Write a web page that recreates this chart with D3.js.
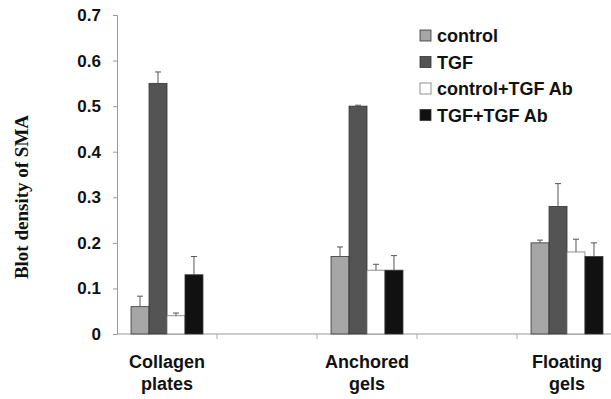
<!DOCTYPE html>
<html>
<head>
<meta charset="utf-8">
<script src="https://cdn.jsdelivr.net/npm/d3@7"></script>
<style>
  body { margin: 0; background: #fff; }
  svg { display: block; }
</style>
</head>
<body>
<svg width="611" height="399"></svg>
<script>
// chart data
const categories = ["Collagen plates", "blank1", "Anchored gels", "blank2", "Floating gels"];
const groups = ["Collagen plates", "Anchored gels", "Floating gels"];
const series = ["control", "TGF", "control+TGF Ab", "TGF+TGF Ab"];
const colors = ["#a6a6a6", "#545454", "#ffffff", "#111111"];
const control = [0.06, 0.17, 0.20];
const tgf = [0.55, 0.50, 0.28];
const controlAb = [0.04, 0.14, 0.18];
const tgfAb = [0.13, 0.14, 0.17];
const controlErr = [0.023, 0.021, 0.006];
const tgfErr = [0.025, 0.002, 0.05];
const controlAbErr = [0.006, 0.013, 0.028];
const tgfAbErr = [0.04, 0.032, 0.03];
const yTicks = [0, 0.1, 0.2, 0.3, 0.4, 0.5, 0.6, 0.7];

const values = [control, tgf, controlAb, tgfAb];
const errors = [controlErr, tgfErr, controlAbErr, tgfAbErr];

const svg = d3.select("svg");
const sans = "Liberation Sans, Arial, sans-serif";

let y = d3.scaleLinear().domain([0, 0.7]).range([334, 15]);
let x = d3.scaleBand().domain(categories).range([117, 617]).padding(0);
let xs = d3.scaleBand().domain(series).range([0, x.bandwidth()]).paddingInner(0).paddingOuter(0.78);

// y axis
const yAxis = svg.append("g")
    .attr("transform", `translate(117,0)`)
    .call(d3.axisLeft(y).tickValues(yTicks).tickSize(4).tickFormat(d => d === 0 ? "0" : d3.format(".1f")(d)));
yAxis.select(".domain").attr("stroke", "#999");
yAxis.selectAll(".tick line").attr("stroke", "#999");
yAxis.selectAll(".tick text")
    .attr("x", -16)
    .attr("font-family", sans)
    .attr("font-weight", "bold")
    .attr("font-size", "17px")
    .attr("fill", "#111");

// x axis line + ticks at category boundaries
const xAxis = svg.append("g")
    .attr("transform", `translate(0,${y(0)})`);
xAxis.append("line")
    .attr("x1", x.range()[0]).attr("x2", x.range()[1])
    .attr("stroke", "#999");
xAxis.selectAll(".xt")
    .data(categories.slice(1))
    .join("line")
    .attr("x1", d => x(d)).attr("x2", d => x(d))
    .attr("y1", 0).attr("y2", 5)
    .attr("stroke", "#aaa");

// category labels
const catLabels = svg.append("g");
groups.forEach(g => {
    const words = g.split(" ");
    const t = catLabels.append("text")
        .attr("text-anchor", "middle")
        .attr("font-family", sans)
        .attr("font-weight", "bold")
        .attr("font-size", "18px")
        .attr("fill", "#111");
    words.forEach((w, i) => {
        t.append("tspan")
            .attr("x", x(g) + x.bandwidth() / 2)
            .attr("y", 368 + i * 22)
            .text(w);
    });
});

// bars
const bars = svg.append("g");
series.forEach((s, si) => {
    groups.forEach((g, gi) => {
        const v = values[si][gi];
        const bx = x(g) + xs(s);
        bars.append("rect")
            .attr("x", bx)
            .attr("y", y(v))
            .attr("width", xs.bandwidth())
            .attr("height", y(0) - y(v))
            .attr("fill", colors[si])
            .attr("stroke", si === 2 ? "#777" : "#333")
            .attr("stroke-width", 0.8);
        const e = errors[si][gi];
        const cx = bx + xs.bandwidth() / 2;
        bars.append("line")
            .attr("x1", cx).attr("x2", cx)
            .attr("y1", y(v)).attr("y2", y(v + e))
            .attr("stroke", "#555").attr("stroke-width", 1);
        bars.append("line")
            .attr("x1", cx - 3).attr("x2", cx + 3)
            .attr("y1", y(v + e)).attr("y2", y(v + e))
            .attr("stroke", "#555").attr("stroke-width", 1);
    });
});

// y title
svg.append("text")
    .attr("transform", `translate(28,197) rotate(-90)`)
    .attr("text-anchor", "middle")
    .attr("font-family", "Liberation Serif, Times New Roman, serif")
    .attr("font-weight", "bold")
    .attr("font-size", "19px")
    .attr("fill", "#111")
    .text("Blot density of SMA");

// legend
const legend = svg.append("g");
series.forEach((s, i) => {
    const ly = 36 + i * 26.5;
    legend.append("rect")
        .attr("x", 420).attr("y", ly - 6)
        .attr("width", 11).attr("height", 11)
        .attr("fill", colors[i])
        .attr("stroke", i === 2 ? "#777" : "#333")
        .attr("stroke-width", 0.8);
    legend.append("text")
        .attr("x", 437).attr("y", ly + 6)
        .attr("font-family", sans)
        .attr("font-weight", "bold")
        .attr("font-size", "18px")
        .attr("fill", "#111")
        .text(s);
});
</script>
</body>
</html>
